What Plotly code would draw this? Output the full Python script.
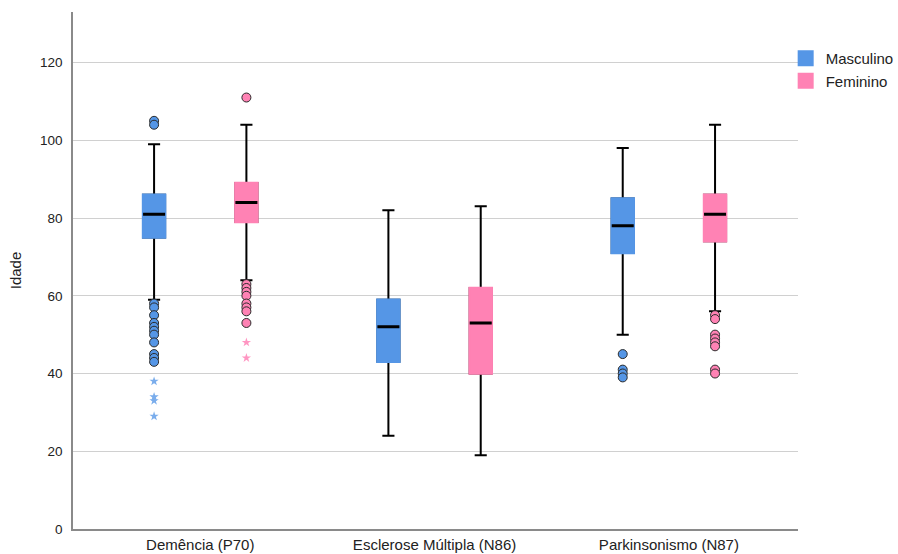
import plotly.graph_objects as go

# Categories and box-plot statistics (age) per sex
categories = ["Demência (P70)", "Esclerose Múltipla (N86)", "Parkinsonismo (N87)"]

masc_lower = [59, 24, 50]
masc_q1 = [75, 43, 71]
masc_median = [81, 52, 78]
masc_q3 = [86, 59, 85]
masc_upper = [99, 82, 98]
masc_outliers = [[105, 104, 58, 57, 55, 53, 52, 51, 50, 48, 45, 44, 43], [], [45, 41, 40, 39]]
masc_extremes = [[38, 34, 33, 29], [], []]

fem_lower = [64, 19, 56]
fem_q1 = [79, 40, 74]
fem_median = [84, 53, 81]
fem_q3 = [89, 62, 86]
fem_upper = [104, 83, 104]
fem_outliers = [[111, 63, 62, 61, 60, 58, 57, 56, 53], [], [55, 54, 50, 49, 48, 47, 41, 40]]
fem_extremes = [[48, 44], [], []]

BLUE = "#5596E6"
PINK = "#FF82B4"
BLUE_STAR = "#7AADEC"
PINK_STAR = "#FF96C2"
OFFSET = 0.197
BOX_W = 0.094
FONT = "Liberation Sans, Arial, sans-serif"

fig = go.Figure()


def add_group(name, shift, lower, q1, med, q3, upper, outliers, extremes, color, star_color):
    xs = [i + shift for i in range(len(categories))]
    common = dict(x=xs, width=BOX_W, boxpoints=False, hoverinfo="skip", showlegend=False)
    # whiskers with caps
    fig.add_trace(go.Box(q1=q1, median=med, q3=q3, lowerfence=lower, upperfence=upper,
                         line=dict(color="black", width=2), fillcolor="rgba(0,0,0,0)",
                         whiskerwidth=0.55, **common))
    # filled box body
    fig.add_trace(go.Box(q1=q1, median=med, q3=q3, lowerfence=q1, upperfence=q3,
                         line=dict(color=color, width=2.5), fillcolor=color,
                         whiskerwidth=0, **common))
    # median bar
    fig.add_trace(go.Box(q1=med, median=med, q3=med, lowerfence=med, upperfence=med,
                         line=dict(color="black", width=3), fillcolor="rgba(0,0,0,0)",
                         whiskerwidth=0, **common))
    # outliers (circles) and extremes (stars)
    ox, oy, ex, ey = [], [], [], []
    for i, x in enumerate(xs):
        ox += [x] * len(outliers[i])
        oy += outliers[i]
        ex += [x] * len(extremes[i])
        ey += extremes[i]
    fig.add_trace(go.Scatter(x=ox, y=oy, mode="markers", showlegend=False, hoverinfo="y",
                             marker=dict(symbol="circle", size=9, color=color,
                                         line=dict(color="#2b2b2b", width=1))))
    fig.add_trace(go.Scatter(x=ex, y=ey, mode="markers", showlegend=False, hoverinfo="y",
                             marker=dict(symbol="star", size=7, color=star_color,
                                         line=dict(width=0))))
    # legend entry
    fig.add_trace(go.Scatter(x=[None], y=[None], mode="markers", name=name,
                             marker=dict(symbol="square", size=16, color=color)))


add_group("Masculino", -OFFSET, masc_lower, masc_q1, masc_median, masc_q3, masc_upper,
          masc_outliers, masc_extremes, BLUE, BLUE_STAR)
add_group("Feminino", OFFSET, fem_lower, fem_q1, fem_median, fem_q3, fem_upper,
          fem_outliers, fem_extremes, PINK, PINK_STAR)

fig.update_layout(
    width=898, height=554,
    margin=dict(l=73, r=100, t=12, b=25, autoexpand=False),
    paper_bgcolor="white", plot_bgcolor="white",
    font=dict(family=FONT, size=15, color="#222"),
    boxmode="overlay",
    legend=dict(x=0.983, xanchor="left", y=0.942, yanchor="top",
                font=dict(size=15, color="#222"), tracegroupgap=0,
                itemsizing="trace", bgcolor="rgba(0,0,0,0)"),
    xaxis=dict(range=[-0.543, 2.551], tickmode="array", tickvals=[0, 1, 2],
               ticktext=categories, showgrid=False, zeroline=False, automargin=False,
               showline=True, linecolor="#8a8a8a", linewidth=1.5, ticks="",
               ticklabelstandoff=1, tickfont=dict(size=15, color="#222")),
    yaxis=dict(range=[0, 133], tickvals=[0, 20, 40, 60, 80, 100, 120],
               showgrid=True, gridcolor="#d0d0d0", gridwidth=1, zeroline=False,
               showline=True, linecolor="#8a8a8a", linewidth=1.5, ticks="", automargin=False,
               ticklabelstandoff=6, tickfont=dict(size=13.5, color="#222"),
               title=dict(text="Idade", font=dict(size=15, color="#222"), standoff=15)),
)

fig.write_html("out.html")
